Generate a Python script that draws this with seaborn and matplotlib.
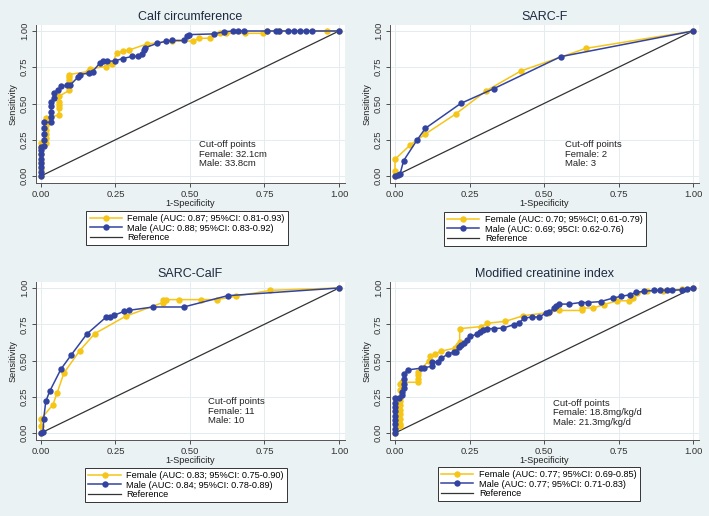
import matplotlib
matplotlib.use("Agg")
import matplotlib.pyplot as plt
import seaborn as sns
import pandas as pd
from matplotlib.lines import Line2D

# ---------------- data ----------------
titles = ["Calf circumference", "SARC-F", "SARC-CalF", "Modified creatinine index"]

calf_f_x = [0, 0, 0, 0, 0, 0, 0.017, 0.017, 0.017, 0.017, 0.017, 0.017, 0.017, 0.06, 0.06, 0.06, 0.06, 0.06,
            0.095, 0.095, 0.095, 0.095, 0.095, 0.157, 0.165, 0.218, 0.238, 0.254, 0.276, 0.296, 0.355, 0.44,
            0.511, 0.53, 0.567, 0.60, 0.62, 0.685, 0.746, 0.757, 0.80, 0.96, 1.0]
calf_f_y = [0, 0.05, 0.10, 0.15, 0.20, 0.23, 0.23, 0.26, 0.29, 0.32, 0.35, 0.38, 0.40, 0.42, 0.47, 0.49, 0.51, 0.55,
            0.59, 0.64, 0.66, 0.68, 0.70, 0.72, 0.74, 0.755, 0.77, 0.846, 0.862, 0.869, 0.91, 0.93,
            0.931, 0.95, 0.95, 0.984, 0.984, 0.984, 0.984, 1.0, 1.0, 1.0, 1.0]
calf_m_x = [0, 0, 0, 0, 0, 0, 0, 0, 0.011, 0.011, 0.011, 0.011, 0.011, 0.034, 0.034, 0.034, 0.034, 0.034,
            0.045, 0.045, 0.056, 0.067, 0.086, 0.097, 0.123, 0.13, 0.162, 0.173, 0.198, 0.209, 0.22, 0.25,
            0.274, 0.307, 0.324, 0.34, 0.347, 0.35, 0.39, 0.42, 0.44, 0.48, 0.49, 0.496, 0.58, 0.615,
            0.645, 0.66, 0.68, 0.76, 0.79, 0.80, 0.83, 0.85, 0.87, 0.89, 0.91, 1.0]
calf_m_y = [0, 0.03, 0.06, 0.09, 0.12, 0.15, 0.18, 0.20, 0.21, 0.25, 0.29, 0.33, 0.37, 0.37, 0.41, 0.44, 0.48, 0.51,
            0.54, 0.57, 0.59, 0.62, 0.625, 0.625, 0.68, 0.70, 0.71, 0.72, 0.78, 0.79, 0.79, 0.795,
            0.81, 0.825, 0.825, 0.84, 0.87, 0.885, 0.915, 0.93, 0.935, 0.935, 0.965, 0.975, 0.98, 0.995,
            1, 1, 1, 1, 1, 1, 1, 1, 1, 1, 1, 1]

sarcf_f_x = [0, 0, 0, 0.051, 0.102, 0.204, 0.307, 0.422, 0.64, 1.0]
sarcf_f_y = [0, 0.035, 0.115, 0.214, 0.29, 0.428, 0.589, 0.724, 0.88, 1.0]
sarcf_m_x = [0, 0.009, 0.017, 0.029, 0.074, 0.102, 0.221, 0.331, 0.556, 1.0]
sarcf_m_y = [0, 0.007, 0.014, 0.106, 0.248, 0.329, 0.501, 0.602, 0.823, 1.0]

calff_f_x = [0, 0, 0, 0.04, 0.054, 0.077, 0.13, 0.18, 0.284, 0.409, 0.409, 0.42, 0.463, 0.538, 0.59, 0.653, 0.77, 1.0]
calff_f_y = [0, 0.046, 0.097, 0.195, 0.276, 0.414, 0.568, 0.685, 0.805, 0.90, 0.92, 0.92, 0.92, 0.92, 0.92, 0.943, 0.984, 1.0]
calff_m_x = [0, 0.007, 0.009, 0.016, 0.029, 0.067, 0.102, 0.154, 0.219, 0.23, 0.244, 0.279, 0.295, 0.376, 0.479, 0.626, 1.0]
calff_m_y = [0, 0.007, 0.097, 0.218, 0.287, 0.441, 0.54, 0.683, 0.80, 0.80, 0.811, 0.839, 0.846, 0.869, 0.869, 0.947, 1.0]

mci_f_x = [0, 0.018, 0.018, 0.018, 0.018, 0.018, 0.018, 0.018, 0.018, 0.018, 0.018, 0.024, 0.076, 0.076, 0.076, 0.076,
           0.115, 0.118, 0.134, 0.156, 0.20, 0.21, 0.217, 0.217, 0.29, 0.31, 0.37, 0.431, 0.512, 0.55, 0.627, 0.627,
           0.666, 0.70, 0.746, 0.786, 0.80, 0.813, 0.847, 0.90, 0.964, 1.0]
mci_f_y = [0, 0.05, 0.065, 0.10, 0.13, 0.16, 0.19, 0.22, 0.24, 0.30, 0.34, 0.35, 0.35, 0.37, 0.40, 0.42,
           0.50, 0.53, 0.545, 0.565, 0.585, 0.61, 0.63, 0.72, 0.734, 0.757, 0.77, 0.809, 0.83, 0.845, 0.845, 0.862,
           0.862, 0.885, 0.912, 0.912, 0.93, 0.965, 0.977, 0.98, 0.993, 1.0]
mci_m_x = [0, 0, 0, 0, 0, 0, 0, 0, 0, 0.012, 0.023, 0.023, 0.031, 0.031, 0.031, 0.031, 0.042, 0.087, 0.098, 0.123,
           0.123, 0.143, 0.156, 0.177, 0.197, 0.204, 0.216, 0.221, 0.232, 0.241, 0.253, 0.275, 0.286, 0.294, 0.308,
           0.331, 0.364, 0.398, 0.415, 0.434, 0.461, 0.484, 0.506, 0.517, 0.534, 0.54, 0.55, 0.584, 0.623, 0.646,
           0.69, 0.73, 0.757, 0.79, 0.808, 0.836, 0.869, 0.89, 0.914, 0.93, 0.964, 0.98, 1.0]
mci_m_y = [0, 0.03, 0.06, 0.09, 0.12, 0.15, 0.18, 0.21, 0.24, 0.24, 0.26, 0.285, 0.31, 0.34, 0.37, 0.41, 0.435, 0.447, 0.45, 0.46,
           0.488, 0.493, 0.516, 0.544, 0.558, 0.562, 0.59, 0.604, 0.62, 0.643, 0.666, 0.682, 0.70, 0.712, 0.719,
           0.72, 0.724, 0.747, 0.758, 0.793, 0.80, 0.80, 0.827, 0.834, 0.86, 0.873, 0.889, 0.889, 0.90, 0.90,
           0.906, 0.93, 0.942, 0.954, 0.97, 0.977, 0.984, 0.984, 0.984, 0.984, 0.988, 0.993, 1.0]

female_labels = ["Female (AUC: 0.87; 95%CI: 0.81-0.93)", "Female (AUC: 0.70; 95%CI; 0.61-0.79)",
                 "Female (AUC: 0.83; 95%CI: 0.75-0.90)", "Female (AUC: 0.77; 95%CI: 0.69-0.85)"]
male_labels = ["Male (AUC: 0.88; 95%CI: 0.83-0.92)", "Male (AUC: 0.69; 95CI: 0.62-0.76)",
               "Male (AUC: 0.84; 95%CI: 0.78-0.89)", "Male (AUC: 0.77; 95%CI: 0.71-0.83)"]
cutoff_texts = ["Cut-off points\nFemale: 32.1cm\nMale: 33.8cm",
                "Cut-off points\nFemale: 2\nMale: 3",
                "Cut-off points\nFemale: 11\nMale: 10",
                "Cut-off points\nFemale: 18.8mg/kg/d\nMale: 21.3mg/kg/d"]
cutoff_pos = [(0.53, 0.245), (0.57, 0.245), (0.56, 0.245), (0.53, 0.235)]
ticks = [0, 0.25, 0.5, 0.75, 1.0]
tick_labels = ["0.00", "0.25", "0.50", "0.75", "1.00"]

series = [(calf_f_x, calf_f_y, calf_m_x, calf_m_y),
          (sarcf_f_x, sarcf_f_y, sarcf_m_x, sarcf_m_y),
          (calff_f_x, calff_f_y, calff_m_x, calff_m_y),
          (mci_f_x, mci_f_y, mci_m_x, mci_m_y)]

# ---------------- style ----------------
BG = "#EAF2F3"
YEL = "#F5C518"
BLU = "#3344A0"
GRID = "#E3ECEE"
MS = 4.6
plt.rcParams['font.family'] = ['Liberation Sans', 'DejaVu Sans']

W, H = 709, 516
fig = plt.figure(figsize=(W / 100, H / 100), dpi=100, facecolor=BG)

# axes boxes in pixels: left, top, right, bottom
boxes = [(36, 25, 345, 183), (390, 25, 699, 183), (36, 282, 345, 440), (390, 282, 699, 440)]
leg_pos = [(187, 211), (545, 212), (186, 468), (539, 467)]

for i in range(4):
    l, t, r, b = boxes[i]
    ax = fig.add_axes([l / W, 1 - b / H, (r - l) / W, (b - t) / H])
    ax.set_facecolor("white")
    fx, fy, mx, my = series[i]
    dff = pd.DataFrame({"x": fx, "y": fy})
    dfm = pd.DataFrame({"x": mx, "y": my})
    sns.lineplot(data=dff, x="x", y="y", ax=ax, sort=False, estimator=None, color=YEL, lw=1.1,
                 marker="o", markersize=MS, markeredgewidth=0, zorder=3)
    sns.lineplot(data=dfm, x="x", y="y", ax=ax, sort=False, estimator=None, color=BLU, lw=1.1,
                 marker="o", markersize=MS, markeredgewidth=0, zorder=4)
    sns.lineplot(x=[0, 1], y=[0, 1], ax=ax, color="#333333", lw=0.9, zorder=2)

    ax.set_xlim(-5 / 298, 1 + 6 / 298)
    ax.set_ylim(-7 / 145, 1 + 6 / 145)
    ax.set_xticks(ticks)
    ax.set_xticklabels(tick_labels)
    ax.set_yticks(ticks)
    ax.set_yticklabels(tick_labels, rotation=90, va="center")
    ax.grid(True, color=GRID, lw=0.7)
    ax.set_axisbelow(True)
    for s in ["top", "right"]:
        ax.spines[s].set_visible(False)
    for s in ["left", "bottom"]:
        ax.spines[s].set_color("#555555")
        ax.spines[s].set_linewidth(0.7)
    ax.tick_params(axis="both", labelsize=6.8, colors="#333333", length=3, width=0.6, pad=2)
    ax.set_xlabel("1-Specificity", fontsize=6.6, color="#222222", labelpad=0)
    ax.set_ylabel("Sensitivity", fontsize=6.6, color="#222222", labelpad=2)
    ax.set_title(titles[i], fontsize=9, color="#1E2A40", pad=3.5)
    ax.text(cutoff_pos[i][0], cutoff_pos[i][1], cutoff_texts[i], fontsize=6.8, color="#222222",
            va="top", ha="left", linespacing=1.05)

    handles = [Line2D([], [], color=YEL, lw=1.1, marker="o", markersize=MS, markeredgewidth=0),
               Line2D([], [], color=BLU, lw=1.1, marker="o", markersize=MS, markeredgewidth=0),
               Line2D([], [], color="#333333", lw=0.9)]
    labels = [female_labels[i], male_labels[i], "Reference"]
    cx, ty = leg_pos[i]
    leg = ax.legend(handles, labels, loc="upper center", bbox_to_anchor=(cx / W, 1 - ty / H),
                    bbox_transform=fig.transFigure, fontsize=6.6, frameon=True, fancybox=False,
                    edgecolor="#333333", facecolor="white", framealpha=1, borderpad=0.35,
                    labelspacing=0.05, handlelength=3.5, handletextpad=0.6, borderaxespad=0)
    leg.get_frame().set_linewidth(0.7)

fig.savefig("out.png", dpi=100, facecolor=BG)
